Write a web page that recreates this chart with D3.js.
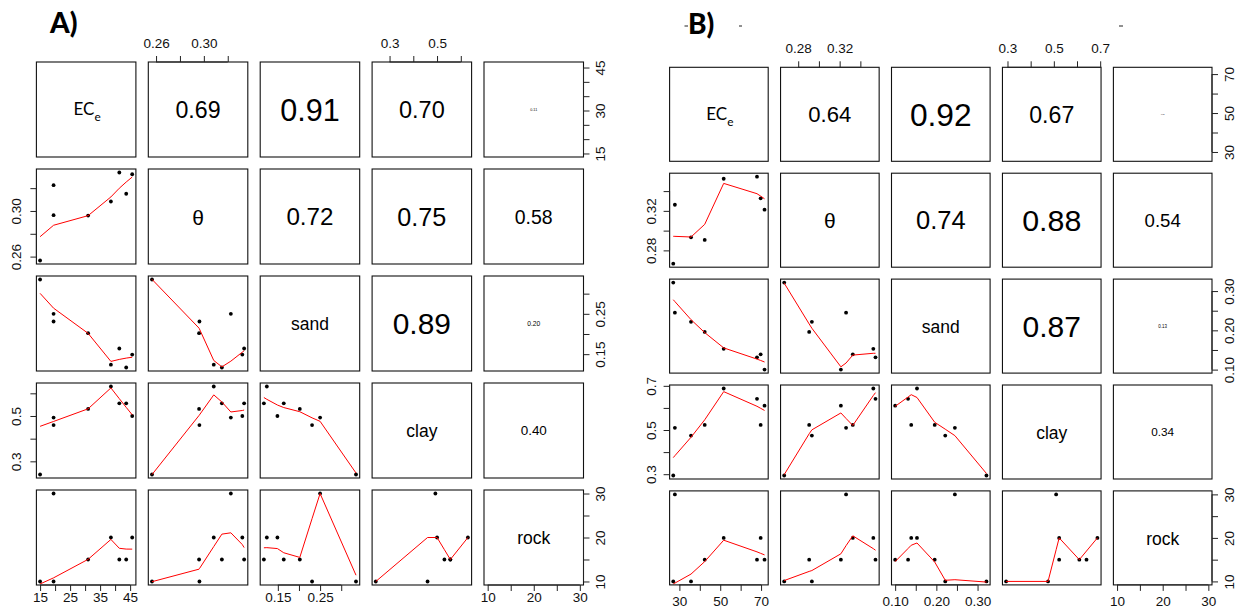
<!DOCTYPE html>
<html>
<head>
<meta charset="utf-8">
<script src="https://cdn.jsdelivr.net/npm/d3@7"></script>
<style>
  body { margin: 0; background: #fff; }
  svg { display: block; font-family: "Liberation Sans", Arial, sans-serif; }
</style>
</head>
<body>
<div id="chart"></div>
<script>
// A) eight sites
const ecA    = [15, 19.5, 19.5, 31, 38.6, 41.4, 43.7, 45.7];
const thetaA = [0.2566, 0.3226, 0.2963, 0.2960, 0.3083, 0.3337, 0.3151, 0.3322];
const sandA  = [0.335, 0.250, 0.231, 0.202, 0.124, 0.164, 0.117, 0.149];
const clayA  = [0.242, 0.493, 0.460, 0.531, 0.630, 0.556, 0.556, 0.500];
const rockA  = [10, 30, 10, 15, 20, 15, 15, 20];
// upper panels, row by row: (1,2) (1,3) (1,4) (1,5) (2,3) (2,4) (2,5) (3,4) (3,5) (4,5)
const corA   = [0.69, 0.91, 0.70, 0.11, 0.72, 0.75, 0.58, 0.89, 0.20, 0.40];

// B) eight sites
const ecB    = [27.0, 27.8, 35.7, 42.4, 51.7, 68.0, 69.8, 71.7];
const thetaB = [0.2665, 0.3262, 0.2932, 0.2906, 0.3525, 0.3546, 0.3327, 0.3212];
const sandB  = [0.3216, 0.245, 0.2216, 0.196, 0.153, 0.1314, 0.139, 0.100];
const clayB  = [0.294, 0.510, 0.475, 0.523, 0.688, 0.641, 0.523, 0.610];
const rockB  = [10, 30, 10, 15, 20, 15, 20, 15];
const corB   = [0.64, 0.92, 0.67, 0.05, 0.74, 0.88, 0.54, 0.87, 0.13, 0.34];

// axis ticks, and the labels R kept (others dropped for overlap)
const ticksA   = [[15, 20, 25, 30, 35, 40, 45], [0.26, 0.28, 0.30, 0.32], [0.15, 0.20, 0.25, 0.30], [0.3, 0.4, 0.5, 0.6], [10, 15, 20, 25, 30]];
const xLabelsA = [["15", "25", "35", "45"], ["0.26", "0.30"], ["0.15", "0.25"], ["0.3", "0.5"], ["10", "20", "30"]];
const yLabelsA = [["15", "30", "45"], ["0.26", "0.30"], ["0.15", "0.25"], ["0.3", "0.5"], ["10", "20", "30"]];

const ticksB   = [[30, 40, 50, 60, 70], [0.28, 0.30, 0.32, 0.34], [0.10, 0.15, 0.20, 0.25, 0.30], [0.3, 0.4, 0.5, 0.6, 0.7], [10, 15, 20, 25, 30]];
const xLabelsB = [["30", "50", "70"], ["0.28", "0.32"], ["0.10", "0.20", "0.30"], ["0.3", "0.5", "0.7"], ["10", "20", "30"]];
const yLabelsB = [["30", "50", "70"], ["0.28", "0.32"], ["0.10", "0.20", "0.30"], ["0.3", "0.5", "0.7"], ["10", "20", "30"]];

// R's lowess (clowess), as used by panel.smooth: f = 2/3, iter = 3
function lowess(xIn, yIn, f = 2 / 3, nsteps = 3) {
    const n = xIn.length;
    const o = d3.range(n).sort((a, b) => (xIn[a] - xIn[b]) || (a - b));
    const x = o.map(i => xIn[i]), y = o.map(i => yIn[i]);
    const delta = 0.01 * (x[n - 1] - x[0]);
    const range = x[n - 1] - x[0];
    const ys = new Array(n).fill(0), rw = new Array(n).fill(1), res = new Array(n).fill(0);
    const ns = Math.max(2, Math.min(n, Math.floor(f * n + 1e-7)));

    function lowest(xs, nleft, nright, userw) {
        const w = new Array(n).fill(0);
        const h = Math.max(xs - x[nleft], x[nright] - xs);
        const h9 = 0.999 * h, h1 = 0.001 * h;
        let a = 0, j = nleft;
        while (j < n) {
            const r = Math.abs(x[j] - xs);
            if (r <= h9) {
                w[j] = r <= h1 ? 1 : Math.pow(1 - Math.pow(r / h, 3), 3);
                if (userw) w[j] *= rw[j];
                a += w[j];
            } else if (x[j] > xs) break;
            j++;
        }
        const nrt = j - 1;
        if (a <= 0) return null;
        for (j = nleft; j <= nrt; j++) w[j] /= a;
        if (h > 0) {
            a = 0;
            for (j = nleft; j <= nrt; j++) a += w[j] * x[j];
            let b = xs - a, c = 0;
            for (j = nleft; j <= nrt; j++) c += w[j] * (x[j] - a) * (x[j] - a);
            if (Math.sqrt(c) > 0.001 * range) {
                b /= c;
                for (j = nleft; j <= nrt; j++) w[j] *= (b * (x[j] - a) + 1);
            }
        }
        let out = 0;
        for (j = nleft; j <= nrt; j++) out += w[j] * y[j];
        return out;
    }

    for (let iter = 1; iter <= nsteps + 1; iter++) {
        let nleft = 0, nright = ns - 1, last = -1, i = 0;
        for (;;) {
            if (nright < n - 1) {
                const d1 = x[i] - x[nleft], d2 = x[nright + 1] - x[i];
                if (d1 > d2) { nleft++; nright++; continue; }
            }
            const v = lowest(x[i], nleft, nright, iter > 1);
            ys[i] = v === null ? y[i] : v;
            if (last < i - 1) {
                const denom = x[i] - x[last];
                for (let j = last + 1; j < i; j++) {
                    const alpha = (x[j] - x[last]) / denom;
                    ys[j] = alpha * ys[i] + (1 - alpha) * ys[last];
                }
            }
            last = i;
            const cut = x[last] + delta;
            for (i = last + 1; i < n; i++) {
                if (x[i] > cut) break;
                if (x[i] === x[last]) { ys[i] = ys[last]; last = i; }
            }
            i = Math.max(last + 1, i - 1);
            if (last >= n - 1) break;
        }
        for (let k = 0; k < n; k++) res[k] = y[k] - ys[k];
        const sc = d3.sum(res, Math.abs) / n;
        if (iter > nsteps) break;
        const sorted = res.map(Math.abs).sort((a, b) => a - b);
        const m1 = Math.floor(n / 2);
        const cmad = n % 2 === 0 ? 3 * (sorted[m1] + sorted[n - m1 - 1]) : 6 * sorted[m1];
        if (cmad < 1e-7 * sc) break;
        const c9 = 0.999 * cmad, c1 = 0.001 * cmad;
        for (let k = 0; k < n; k++) {
            const r = Math.abs(res[k]);
            rw[k] = r <= c1 ? 1 : (r <= c9 ? Math.pow(1 - Math.pow(r / cmad, 2), 2) : 0);
        }
    }
    return x.map((xv, k) => [xv, ys[k]]);
}

const svg = d3.select("#chart").append("svg")
    .attr("width", 1241)
    .attr("height", 613);

svg.append("rect").attr("width", 1241).attr("height", 613).attr("fill", "#fff");

let clipId = 0;

class PairsPlot {
    constructor(_config, _data, _cors) {
        this.config = _config;
        this.data = _data;
        this.cors = _cors;
        this.initVis();
    }

    initVis() {
        let vis = this;
        const c = vis.config;
        vis.n = vis.data.length;
        vis.g = c.parent.append("g");

        vis.colX = k => c.left + k * c.stepX;
        vis.rowY = k => c.top + k * c.stepY;

        // one scale per variable, range padded 4% like R
        vis.xScales = vis.data.map((v, k) => {
            const [lo, hi] = d3.extent(v);
            const pad = 0.04 * (hi - lo);
            return d3.scaleLinear().domain([lo - pad, hi + pad]).range([vis.colX(k), vis.colX(k) + c.panelWidth]);
        });
        vis.yScales = vis.data.map((v, k) => {
            const [lo, hi] = d3.extent(v);
            const pad = 0.04 * (hi - lo);
            return d3.scaleLinear().domain([lo - pad, hi + pad]).range([vis.rowY(k) + c.panelHeight, vis.rowY(k)]);
        });

        vis.renderVis();
    }

    renderVis() {
        let vis = this;
        const c = vis.config;
        let corIdx = 0;

        for (let i = 0; i < vis.n; i++) {
            for (let j = 0; j < vis.n; j++) {
                const x0 = vis.colX(j), y0 = vis.rowY(i);
                const cx = x0 + c.panelWidth / 2, cy = y0 + c.panelHeight / 2;

                if (i > j) {
                    // scatter + lowess
                    const id = "clip" + (clipId++);
                    vis.g.append("clipPath").attr("id", id)
                        .append("rect")
                        .attr("x", x0).attr("y", y0)
                        .attr("width", c.panelWidth).attr("height", c.panelHeight);
                    const xs = vis.xScales[j], ys = vis.yScales[i];
                    const pts = vis.data[j].map((v, k) => [v, vis.data[i][k]]);
                    const p = vis.g.append("g").attr("clip-path", `url(#${id})`);
                    p.selectAll("circle")
                        .data(pts)
                        .join("circle")
                        .attr("cx", d => xs(d[0]))
                        .attr("cy", d => ys(d[1]))
                        .attr("r", 1.9)
                        .attr("fill", "#000");
                    const fit = lowess(vis.data[j], vis.data[i]);
                    p.append("path")
                        .attr("d", d3.line().x(d => xs(d[0])).y(d => ys(d[1]))(fit))
                        .attr("fill", "none")
                        .attr("stroke", "#ff0000")
                        .attr("stroke-width", 1);
                } else if (i < j) {
                    // correlation text, sized by r
                    const r = vis.cors[corIdx++];
                    const fs = c.corScale * r;
                    vis.g.append("text")
                        .attr("x", cx)
                        .attr("y", cy + 0.36 * fs)
                        .attr("text-anchor", "middle")
                        .attr("font-size", fs)
                        .attr("fill", "#000")
                        .text(r.toFixed(2));
                } else {
                    const name = c.labels[i];
                    if (name === "ECe") {
                        const t = vis.g.append("text")
                            .attr("x", cx + 1)
                            .attr("y", cy + c.ecDy)
                            .attr("text-anchor", "middle")
                            .attr("font-family", "Lato, 'Open Sans', sans-serif")
                            .attr("font-size", c.ecSize)
                            .attr("fill", "#000");
                        t.append("tspan").text("EC");
                        t.append("tspan").attr("font-size", c.ecSize * 0.7).attr("dy", 5.5).text("e");
                    } else {
                        const fs = name === "θ" ? c.thetaSize : c.labelSize;
                        vis.g.append("text")
                            .attr("x", cx)
                            .attr("y", cy + 0.39 * fs)
                            .attr("text-anchor", "middle")
                            .attr("font-size", fs)
                            .attr("fill", "#000")
                            .text(name);
                    }
                }

                vis.g.append("rect")
                    .attr("x", x0).attr("y", y0)
                    .attr("width", c.panelWidth).attr("height", c.panelHeight)
                    .attr("fill", "none")
                    .attr("stroke", "#111")
                    .attr("stroke-width", 1.1);
            }
        }

        // alternating outer axes, as pairs() draws them
        for (let k = 0; k < vis.n; k++) {
            vis.drawAxis(k, k % 2 === 0 ? "bottom" : "top");
            vis.drawAxis(k, k % 2 === 0 ? "right" : "left");
        }
    }

    drawAxis(k, side) {
        let vis = this;
        const c = vis.config;
        const horiz = side === "bottom" || side === "top";
        const scale = horiz ? vis.xScales[k] : vis.yScales[k];
        const labels = horiz ? c.xLabels[k] : c.yLabels[k];
        const ticks = c.ticks[k];
        const fmt = d => labels.find(l => Math.abs(+l - d) < 1e-9) || "";
        const axisFn = { bottom: d3.axisBottom, top: d3.axisTop, left: d3.axisLeft, right: d3.axisRight }[side];
        const axis = axisFn(scale).tickValues(ticks).tickSize(6).tickSizeOuter(0).tickFormat(fmt);

        const last = vis.n - 1;
        let tr;
        if (side === "bottom") tr = `translate(0,${vis.rowY(last) + c.panelHeight})`;
        else if (side === "top") tr = `translate(0,${vis.rowY(0)})`;
        else if (side === "left") tr = `translate(${vis.colX(0)},0)`;
        else tr = `translate(${vis.colX(last) + c.panelWidth},0)`;

        const g = vis.g.append("g").attr("transform", tr).call(axis);
        g.select(".domain").remove();
        g.selectAll(".tick line").attr("stroke", "#222");
        const p0 = scale(ticks[0]), p1 = scale(ticks[ticks.length - 1]);
        if (horiz) g.append("line").attr("x1", p0).attr("x2", p1).attr("stroke", "#222");
        else g.append("line").attr("y1", p0).attr("y2", p1).attr("stroke", "#222");

        const txt = g.selectAll(".tick text")
            .attr("font-family", "'Liberation Sans', Arial, sans-serif")
            .attr("font-size", c.axisFont)
            .attr("fill", "#111")
            .attr("dy", null);
        if (side === "bottom") txt.attr("y", c.bottomOff);
        else if (side === "top") txt.attr("y", -c.topOff);
        else {
            txt.attr("x", 0)
                .attr("y", side === "left" ? -c.leftOff : c.rightOff)
                .attr("text-anchor", "middle")
                .attr("transform", "rotate(-90)");
        }
    }
}

const labels = ["ECe", "θ", "sand", "clay", "rock"];

new PairsPlot({
    parent: svg, labels: labels,
    left: 36.4, top: 62, panelWidth: 99.5, panelHeight: 95, stepX: 111.9, stepY: 107,
    corScale: 33.6, labelSize: 17.5, thetaSize: 21, ecSize: 17, ecDy: 5.5,
    axisFont: 13.5, bottomOff: 17, topOff: 14, leftOff: 15, rightOff: 21,
    ticks: ticksA, xLabels: xLabelsA, yLabels: yLabelsA
}, [ecA, thetaA, sandA, clayA, rockA], corA);

new PairsPlot({
    parent: svg, labels: labels,
    left: 669.6, top: 67.3, panelWidth: 98.6, panelHeight: 94, stepX: 110.95, stepY: 105.9,
    corScale: 34.5, labelSize: 17.5, thetaSize: 21, ecSize: 17, ecDy: 6,
    axisFont: 13.5, bottomOff: 21, topOff: 14, leftOff: 14, rightOff: 22,
    ticks: ticksB, xLabels: xLabelsB, yLabels: yLabelsB
}, [ecB, thetaB, sandB, clayB, rockB], corB);

// panel titles
svg.append("text")
    .attr("x", 50).attr("y", 33)
    .attr("font-family", "Lato, sans-serif")
    .attr("font-weight", 900)
    .attr("font-size", 28)
    .text("A)");
svg.append("text")
    .attr("x", 688).attr("y", 34)
    .attr("font-family", "Lato, sans-serif")
    .attr("font-weight", 900)
    .attr("font-size", 28)
    .text("B)");

// stray marks beside the B) title in the original
[[684.5, 688], [739, 742], [1119, 1123]].forEach(([a, b]) => {
    svg.append("line")
        .attr("x1", a).attr("x2", b)
        .attr("y1", 26).attr("y2", 26)
        .attr("stroke", "#222").attr("stroke-width", 1);
});
</script>
</body>
</html>
